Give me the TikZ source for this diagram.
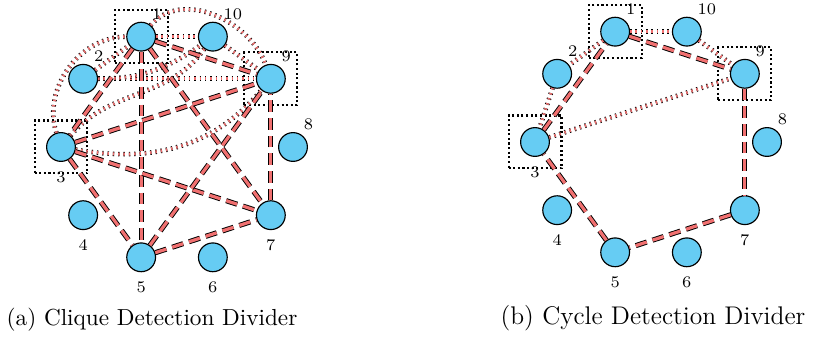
\documentclass[tikz,border=0pt]{standalone}
\usepackage{tikz}
\usetikzlibrary{positioning}
\definecolor{nodeblue}{RGB}{102,204,243}
\definecolor{edgered}{RGB}{240,112,112}
\tikzstyle{vertex} = [
    circle, draw, fill=nodeblue, line width=0.5pt,
    minimum size=12.4pt, inner sep=0pt
]
\tikzstyle{vlabel} = [font=\scriptsize, inner sep=0pt]
\tikzstyle{link} = [
    draw, line width=0.4pt, double=edgered, double distance=1.4pt,
    dash pattern=on 5pt off 2.6pt % clique / cycle edges
]
\tikzstyle{hint} = [
    draw, line width=0.35pt, double=edgered, double distance=1.3pt,
    dash pattern=on 0.6pt off 1.7pt % other edges
]
\tikzstyle{divbox} = [
    rectangle, draw, line width=0.9pt, dash pattern=on 0.9pt off 1.1pt,
    minimum size=22.8pt, inner sep=0pt
]

\begin{document}
\begin{tikzpicture}[x=0.431pt, y=0.431pt]
    \useasboundingbox (0,0) rectangle (817,-337);

    % (a) clique detection
    \begin{scope}[shift={(177,-147)}]
        \node[vertex, label={[vlabel, label distance=2pt]58:1}] (a1) at (108:116) {};
        \node[vertex, label={[vlabel, label distance=2pt]58:2}] (a2) at (144:116) {};
        \node[vertex, label={[vlabel, label distance=4pt]below:3}] (a3) at (180:116) {};
        \node[vertex, label={[vlabel, label distance=4pt]below:4}] (a4) at (216:116) {};
        \node[vertex, label={[vlabel, label distance=4pt]below:5}] (a5) at (252:116) {};
        \node[vertex, label={[vlabel, label distance=4pt]below:6}] (a6) at (288:116) {};
        \node[vertex, label={[vlabel, label distance=4pt]below:7}] (a7) at (324:116) {};
        \node[vertex, label={[vlabel, label distance=2pt]58:8}] (a8) at (0:116) {};
        \node[vertex, label={[vlabel, label distance=2pt]58:9}] (a9) at (36:116) {};
        \node[vertex, label={[vlabel, label distance=2pt]58:10}] (a10) at (72:116) {};

        % dividers
        \node[divbox] (boxa1) at (a1) {};
        \node[divbox] (boxa3) at (a3) {};
        \node[divbox] (boxa9) at (a9) {};

        % other edges
        \draw[hint] (a1) -- (a10);
        \draw[hint] (a10) -- (a9);
        \draw[hint] (a2) -- (a9);
        \draw[hint] (a2) -- (a1);
        \draw[hint] (a3) to[out=108, in=180] (a1);
        \draw[hint] (a1) to[out=50, in=110] (a9);
        \draw[hint] (a3) to[out=-10, in=230] (a9);
        \draw[hint] (a3) to[out=50, in=235] (a10);
        \draw[hint] (a2) to[out=0, in=215] (a10);

        % clique
        \draw[link] (a1) -- (a3);
        \draw[link] (a1) -- (a5);
        \draw[link] (a1) -- (a7);
        \draw[link] (a1) -- (a9);
        \draw[link] (a3) -- (a5);
        \draw[link] (a3) -- (a7);
        \draw[link] (a3) -- (a9);
        \draw[link] (a5) -- (a7);
        \draw[link] (a5) -- (a9);
        \draw[link] (a7) -- (a9);
    \end{scope}

    % (b) cycle detection
    \begin{scope}[shift={(651,-142)}]
        \node[vertex, label={[vlabel, label distance=2pt]58:1}] (b1) at (108:116) {};
        \node[vertex, label={[vlabel, label distance=2pt]58:2}] (b2) at (144:116) {};
        \node[vertex, label={[vlabel, label distance=4pt]below:3}] (b3) at (180:116) {};
        \node[vertex, label={[vlabel, label distance=4pt]below:4}] (b4) at (216:116) {};
        \node[vertex, label={[vlabel, label distance=4pt]below:5}] (b5) at (252:116) {};
        \node[vertex, label={[vlabel, label distance=4pt]below:6}] (b6) at (288:116) {};
        \node[vertex, label={[vlabel, label distance=4pt]below:7}] (b7) at (324:116) {};
        \node[vertex, label={[vlabel, label distance=2pt]58:8}] (b8) at (0:116) {};
        \node[vertex, label={[vlabel, label distance=2pt]58:9}] (b9) at (36:116) {};
        \node[vertex, label={[vlabel, label distance=2pt]58:10}] (b10) at (72:116) {};

        % dividers
        \node[divbox] (boxb1) at (b1) {};
        \node[divbox] (boxb3) at (b3) {};
        \node[divbox] (boxb9) at (b9) {};

        % other edges
        \draw[hint] (b1) -- (b10);
        \draw[hint] (b10) -- (b9);
        \draw[hint] (b1) -- (b2);
        \draw[hint] (b2) -- (b3);
        \draw[hint] (b3) -- (b9);

        % cycle
        \draw[link] (b1) -- (b9);
        \draw[link] (b9) -- (b7);
        \draw[link] (b7) -- (b5);
        \draw[link] (b5) -- (b3);
        \draw[link] (b3) -- (b1);
    \end{scope}

    % captions
    \node (capa) at (152,-320) {(a) Clique Detection Divider};
    \node[font=\fontsize{11}{13}\selectfont] (capb) at (653,-318) {(b) Cycle Detection Divider};
\end{tikzpicture}
\end{document}
